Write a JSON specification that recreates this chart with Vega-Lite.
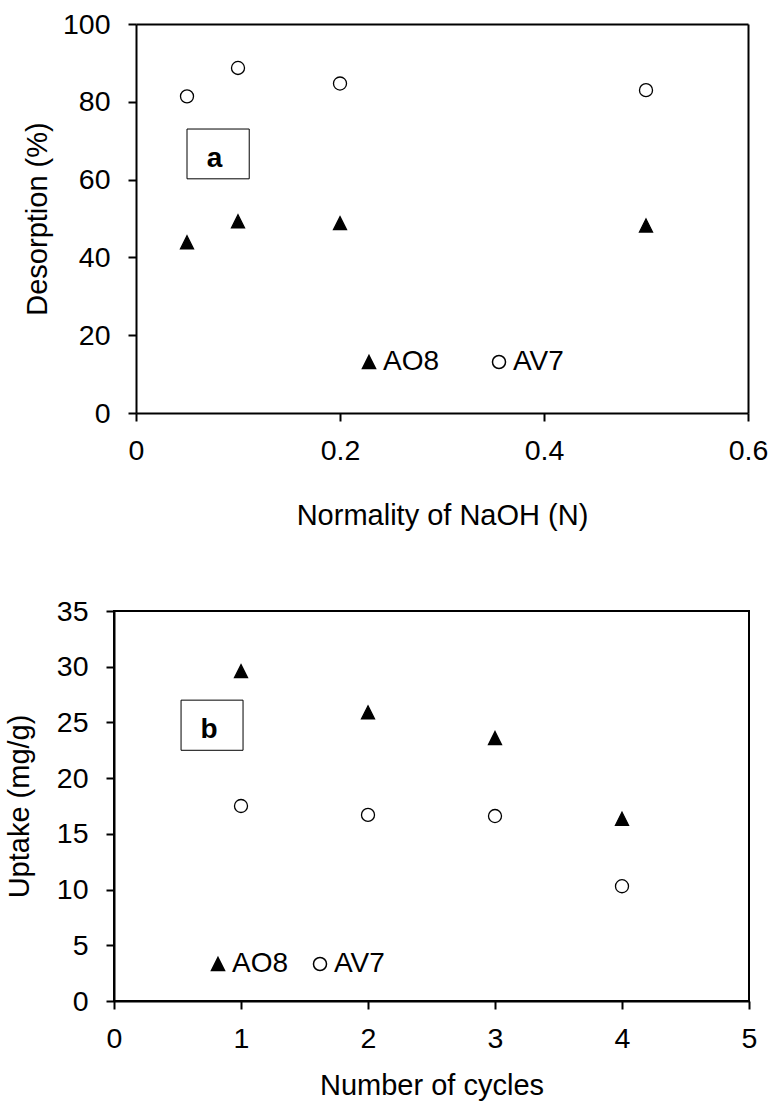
{
  "$schema": "https://vega.github.io/schema/vega-lite/v6.json",
  "background": "white",
  "padding": {"left": 4, "top": 10, "right": 0, "bottom": 0},
  "spacing": 65,
  "resolve": {
    "scale": {"x": "independent", "y": "independent", "shape": "independent", "fill": "independent"},
    "legend": {"shape": "independent", "fill": "independent"}
  },
  "vconcat": [
    {
      "width": 634,
      "height": 389,
      "view": {"stroke": null},
      "data": {"values": [
        {"normality": 0.05, "desorption": 43.9, "dye": "AO8"},
        {"normality": 0.1, "desorption": 49.3, "dye": "AO8"},
        {"normality": 0.2, "desorption": 48.8, "dye": "AO8"},
        {"normality": 0.5, "desorption": 48.2, "dye": "AO8"},
        {"normality": 0.05, "desorption": 81.4, "dye": "AV7"},
        {"normality": 0.1, "desorption": 88.7, "dye": "AV7"},
        {"normality": 0.2, "desorption": 84.7, "dye": "AV7"},
        {"normality": 0.5, "desorption": 83.0, "dye": "AV7"}
      ]},
      "resolve": {"axis": {"x": "independent", "y": "independent"}},
      "layer": [
        {
          "mark": {"type": "point", "filled": true, "stroke": "black", "strokeWidth": 1.3, "size": 170, "opacity": 1},
          "encoding": {
            "x": {"field": "normality", "type": "quantitative",
              "scale": {"domain": [0, 0.6], "nice": false, "zero": true, "range": [22, 634]},
              "axis": {"orient": "bottom", "values": [0, 0.2, 0.4, 0.6], "format": "~g", "title": "Normality of NaOH (N)", "titlePadding": 37}},
            "y": {"field": "desorption", "type": "quantitative",
              "scale": {"domain": [0, 100], "nice": false},
              "axis": {"orient": "left", "offset": -22, "values": [0, 20, 40, 60, 80, 100], "title": "Desorption (%)", "titlePadding": 10}},
            "shape": {"field": "dye", "type": "nominal",
              "scale": {"domain": ["AO8", "AV7"], "range": ["M0,-1L1,1L-1,1Z", "circle"]},
              "legend": {"orient": "none", "legendX": 241, "legendY": 324, "direction": "horizontal", "title": null, "columnPadding": 45, "labelOffset": 0,
                "encode": {"symbols": {"update": {"stroke": {"value": "black"}, "strokeWidth": {"value": 1.3}, "opacity": {"value": 1}}}}}},
            "fill": {"field": "dye", "type": "nominal",
              "scale": {"domain": ["AO8", "AV7"], "range": ["black", "white"]},
              "legend": {"orient": "none", "legendX": 241, "legendY": 324, "direction": "horizontal", "title": null, "columnPadding": 45, "labelOffset": 0,
                "encode": {"symbols": {"update": {"stroke": {"value": "black"}, "strokeWidth": {"value": 1.3}, "opacity": {"value": 1}}}}}}
          }
        },
        {
          "mark": {"type": "point", "opacity": 0},
          "encoding": {
            "x": {"field": "normality", "type": "quantitative",
              "axis": {"orient": "top", "labels": false, "ticks": false, "title": null, "grid": false}},
            "y": {"field": "desorption", "type": "quantitative",
              "axis": {"orient": "right", "labels": false, "ticks": false, "title": null, "grid": false}}
          }
        },
        {
          "data": {"values": [{"label": "a"}]},
          "mark": {"type": "rect", "fill": "white", "stroke": "black", "strokeWidth": 1},
          "encoding": {
            "x": {"datum": 0.05, "type": "quantitative", "axis": null},
            "x2": {"datum": 0.111},
            "y": {"datum": 60.2, "type": "quantitative", "axis": null},
            "y2": {"datum": 73.0}
          }
        },
        {
          "data": {"values": [{"label": "a"}]},
          "mark": {"type": "text", "font": "Liberation Sans", "fontSize": 28, "fontWeight": "bold", "color": "black", "align": "center", "baseline": "alphabetic"},
          "encoding": {
            "text": {"field": "label"},
            "x": {"datum": 0.077, "type": "quantitative", "axis": null},
            "y": {"datum": 63.2, "type": "quantitative", "axis": null}
          }
        }
      ]
    },
    {
      "width": 635,
      "height": 390,
      "layer": [
        {
          "data": {"values": [
            {"cycle": 1, "uptake": 29.6, "dye": "AO8"},
            {"cycle": 2, "uptake": 25.9, "dye": "AO8"},
            {"cycle": 3, "uptake": 23.6, "dye": "AO8"},
            {"cycle": 4, "uptake": 16.35, "dye": "AO8"},
            {"cycle": 1, "uptake": 17.5, "dye": "AV7"},
            {"cycle": 2, "uptake": 16.7, "dye": "AV7"},
            {"cycle": 3, "uptake": 16.6, "dye": "AV7"},
            {"cycle": 4, "uptake": 10.3, "dye": "AV7"}
          ]},
          "mark": {"type": "point", "filled": true, "stroke": "black", "strokeWidth": 1.3, "size": 170, "opacity": 1},
          "encoding": {
            "x": {"field": "cycle", "type": "quantitative",
              "scale": {"domain": [0, 5], "nice": false, "zero": true},
              "axis": {"values": [0, 1, 2, 3, 4, 5], "format": "d", "title": "Number of cycles", "titlePadding": 19}},
            "y": {"field": "uptake", "type": "quantitative",
              "scale": {"domain": [0, 35], "nice": false},
              "axis": {"values": [0, 5, 10, 15, 20, 25, 30, 35], "title": "Uptake (mg/g)", "titlePadding": 22}},
            "shape": {"field": "dye", "type": "nominal",
              "scale": {"domain": ["AO8", "AV7"], "range": ["M0,-1L1,1L-1,1Z", "circle"]},
              "legend": {"orient": "none", "legendX": 90, "legendY": 339, "direction": "horizontal", "title": null, "columnPadding": 17, "labelOffset": 0,
                "encode": {"symbols": {"update": {"stroke": {"value": "black"}, "strokeWidth": {"value": 1.3}, "opacity": {"value": 1}}}}}},
            "fill": {"field": "dye", "type": "nominal",
              "scale": {"domain": ["AO8", "AV7"], "range": ["black", "white"]},
              "legend": {"orient": "none", "legendX": 90, "legendY": 339, "direction": "horizontal", "title": null, "columnPadding": 17, "labelOffset": 0,
                "encode": {"symbols": {"update": {"stroke": {"value": "black"}, "strokeWidth": {"value": 1.3}, "opacity": {"value": 1}}}}}}
          }
        },
        {
          "data": {"values": [{"label": "b"}]},
          "mark": {"type": "rect", "fill": "white", "stroke": "black", "strokeWidth": 1},
          "encoding": {
            "x": {"datum": 0.528, "type": "quantitative"},
            "x2": {"datum": 1.016},
            "y": {"datum": 22.5, "type": "quantitative"},
            "y2": {"datum": 27.0}
          }
        },
        {
          "data": {"values": [{"label": "b"}]},
          "mark": {"type": "text", "font": "Liberation Sans", "fontSize": 28, "fontWeight": "bold", "color": "black", "align": "center", "baseline": "alphabetic"},
          "encoding": {
            "text": {"field": "label"},
            "x": {"datum": 0.748, "type": "quantitative"},
            "y": {"datum": 23.6, "type": "quantitative"}
          }
        }
      ]
    }
  ],
  "config": {
    "font": "Liberation Sans",
    "view": {"stroke": "black", "strokeWidth": 2},
    "axis": {
      "domainColor": "black", "domainWidth": 2, "tickColor": "black", "tickWidth": 2, "tickSize": 8,
      "labelFont": "Liberation Sans", "labelFontSize": 28.5, "labelColor": "black",
      "titleFont": "Liberation Sans", "titleFontSize": 29, "titleFontWeight": "normal", "titleColor": "black",
      "grid": false, "labelFlush": false, "labelOverlap": false, "labelBound": false
    },
    "axisX": {"labelPadding": 15},
    "axisY": {"labelPadding": 18},
    "legend": {
      "labelFont": "Liberation Sans", "labelFontSize": 28, "labelColor": "black",
      "symbolSize": 170, "padding": 0
    }
  }
}
